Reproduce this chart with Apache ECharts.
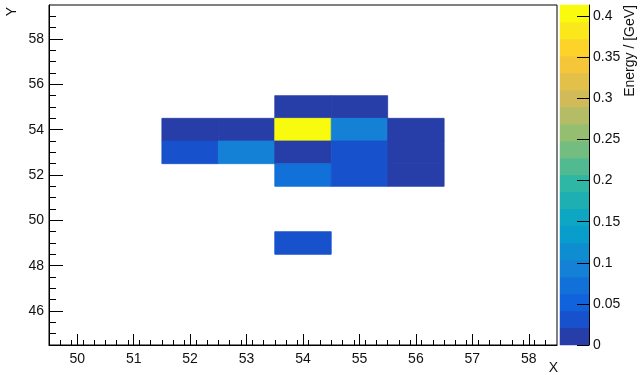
<!DOCTYPE html>
<html><head><meta charset="utf-8">
<script src="https://cdn.jsdelivr.net/npm/echarts@6/dist/echarts.min.js"></script>
<style>html,body{margin:0;padding:0;background:#fff}#c{width:640px;height:375px}</style>
</head><body><div id="c"></div>
<script>
// ---- data ----
const cellX = [54, 55, 52, 53, 54, 55, 56, 52, 53, 54, 55, 56, 54, 55, 56, 54];
const cellY = [55, 55, 54, 54, 54, 54, 54, 53, 53, 53, 53, 53, 52, 52, 52, 49];
const cellE = [0.012, 0.008, 0.010, 0.014, 0.413, 0.092, 0.006, 0.032, 0.095, 0.011, 0.030, 0.009, 0.072, 0.028, 0.013, 0.035];
const xMajorTicks = [50, 51, 52, 53, 54, 55, 56, 57, 58];
const yMajorTicks = [46, 48, 50, 52, 54, 56, 58];
const zTicks = [0, 0.05, 0.1, 0.15, 0.2, 0.25, 0.3, 0.35, 0.4];
const zMax = 0.4135;
const nBands = 20;

// minor tick positions
const xMinor = [];
for (let k = 1; k <= 44; k++) xMinor.push(Math.round((49.5 + k * 0.2) * 1000) / 1000);
const yMinor = [];
for (let k = 1; k < 30; k++) yMinor.push(44.5 + k * 0.5);

// ---- kBird palette ----
const st = [0, 0.125, 0.25, 0.375, 0.5, 0.625, 0.75, 0.875, 1];
const pr = [0.2082, 0.0592, 0.0780, 0.0232, 0.1802, 0.5301, 0.8186, 0.9956, 0.9764];
const pg = [0.1664, 0.3599, 0.5041, 0.6419, 0.7178, 0.7492, 0.7328, 0.7862, 0.9832];
const pb = [0.5293, 0.8684, 0.8385, 0.7914, 0.6425, 0.4662, 0.3499, 0.1968, 0.0539];
function birdAt(p) {
  let s = 0;
  while (s < st.length - 2 && p > st[s + 1]) s++;
  const t = (p - st[s]) / (st[s + 1] - st[s]);
  const c = a => Math.round(255 * (a[s] + (a[s + 1] - a[s]) * t));
  return 'rgb(' + c(pr) + ',' + c(pg) + ',' + c(pb) + ')';
}
const bandColors = [];
const bands = [];
const pieces = [];
for (let i = 0; i < nBands; i++) {
  const idx = Math.floor((i + 0.99) * 255 / nBands);
  bandColors.push(birdAt(idx / 254));
  const lo = zMax * i / nBands, hi = zMax * (i + 1) / nBands;
  bands.push([lo, hi, i]);
  const pc = { gte: lo, color: bandColors[i] };
  if (i < nBands - 1) pc.lt = hi; else pc.lte = hi + 1;
  pieces.push(pc);
}

const FONT = 'Liberation Sans, Arial, sans-serif';
const chart = echarts.init(document.getElementById('c'));
chart.setOption({
  animation: false,
  backgroundColor: '#fff',
  grid: [
    { left: 49, top: 5, width: 508, height: 340, show: true, borderColor: '#000', borderWidth: 1, backgroundColor: '#fff' },
    { left: 560, top: 5, width: 29, height: 340, show: false }
  ],
  xAxis: [
    { type: 'value', gridIndex: 0, min: 49.5, max: 58.5, position: 'bottom', z: 10,
      axisLine: { show: true, onZero: false, lineStyle: { color: '#000', width: 1 } },
      axisTick: { show: true, inside: true, length: 11, customValues: xMajorTicks, lineStyle: { color: '#000' } },
      axisLabel: { customValues: xMajorTicks, color: '#111', fontSize: 14, margin: 7, fontFamily: FONT },
      splitLine: { show: false } },
    { type: 'value', gridIndex: 0, min: 49.5, max: 58.5, position: 'bottom', z: 10,
      axisLine: { show: false, onZero: false },
      axisTick: { show: true, inside: true, length: 5, customValues: xMinor, lineStyle: { color: '#000' } },
      axisLabel: { show: false }, splitLine: { show: false } },
    { type: 'value', gridIndex: 1, min: 0, max: 1, show: false }
  ],
  yAxis: [
    { type: 'value', gridIndex: 0, min: 44.5, max: 59.5, position: 'left', z: 10,
      axisLine: { show: true, onZero: false, lineStyle: { color: '#000', width: 1 } },
      axisTick: { show: true, inside: true, length: 14, customValues: yMajorTicks, lineStyle: { color: '#000' } },
      axisLabel: { customValues: yMajorTicks, color: '#111', fontSize: 14, margin: 5, fontFamily: FONT },
      splitLine: { show: false } },
    { type: 'value', gridIndex: 0, min: 44.5, max: 59.5, position: 'left', z: 10,
      axisLine: { show: false, onZero: false },
      axisTick: { show: true, inside: true, length: 7, customValues: yMinor, lineStyle: { color: '#000' } },
      axisLabel: { show: false }, splitLine: { show: false } },
    { type: 'value', gridIndex: 1, min: 0, max: zMax, position: 'right', z: 10,
      axisLine: { show: true, onZero: false, lineStyle: { color: '#000', width: 1 } },
      axisTick: { show: true, inside: true, length: 12, customValues: zTicks, lineStyle: { color: '#000' } },
      axisLabel: { customValues: zTicks, color: '#111', fontSize: 14, margin: 4, fontFamily: FONT },
      splitLine: { show: false } }
  ],
  visualMap: {
    type: 'piecewise', show: false, seriesIndex: 0, dimension: 2, pieces: pieces
  },
  series: [
    {
      type: 'custom', coordinateSystem: 'cartesian2d', xAxisIndex: 0, yAxisIndex: 0,
      encode: { x: 0, y: 1 },
      data: cellX.map((x, i) => [x, cellY[i], cellE[i]]),
      renderItem: function (params, api) {
        const x = api.value(0), y = api.value(1);
        const p0 = api.coord([x - 0.5, y + 0.5]);
        const p1 = api.coord([x + 0.5, y - 0.5]);
        const col = api.visual('color');
        return { type: 'rect', shape: { x: p0[0], y: p0[1], width: p1[0] - p0[0], height: p1[1] - p0[1] },
                 style: { fill: col, stroke: col, lineWidth: 0.8 } };
      }
    },
    {
      type: 'custom', coordinateSystem: 'cartesian2d', xAxisIndex: 2, yAxisIndex: 2,
      encode: { y: [0, 1] },
      data: bands,
      renderItem: function (params, api) {
        const lo = api.value(0), hi = api.value(1), i = api.value(2);
        const p0 = api.coord([0, hi]);
        const p1 = api.coord([1, lo]);
        return { type: 'rect', shape: { x: p0[0], y: p0[1], width: p1[0] - p0[0], height: p1[1] - p0[1] },
                 style: { fill: bandColors[i], stroke: bandColors[i], lineWidth: 0.5 } };
      }
    }
  ],
  graphic: [
    { type: 'text', x: 12, y: 7, rotation: Math.PI / 2,
      style: { text: 'Y', font: '14px ' + FONT, fill: '#111', align: 'right', textAlign: 'right', verticalAlign: 'middle', textVerticalAlign: 'middle' } },
    { type: 'text', x: 558, y: 368,
      style: { text: 'X', font: '14px ' + FONT, fill: '#111', align: 'right', textAlign: 'right', verticalAlign: 'middle', textVerticalAlign: 'middle' } },
    { type: 'text', x: 630, y: 5, rotation: Math.PI / 2,
      style: { text: 'Energy / [GeV]', font: '14px ' + FONT, fill: '#111', align: 'right', textAlign: 'right', verticalAlign: 'middle', textVerticalAlign: 'middle' } }
  ]
});
</script>
</body></html>
